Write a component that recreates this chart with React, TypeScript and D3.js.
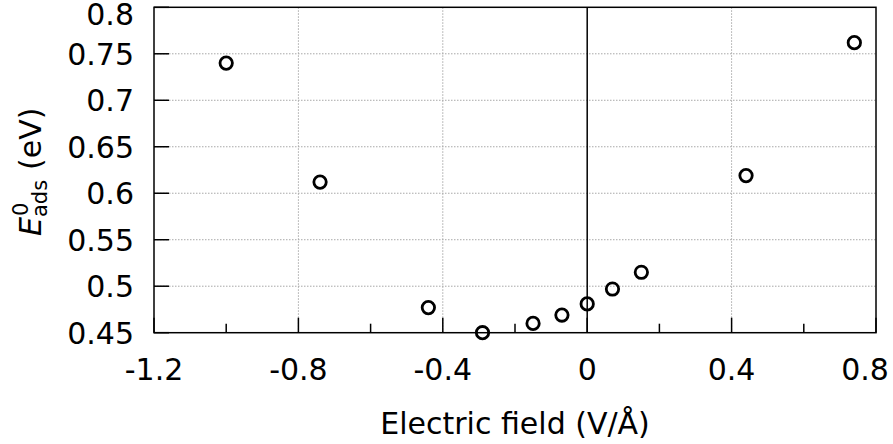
import React from "react";
import * as d3 from "d3";

const fieldValues = [-1.0, -0.74, -0.44, -0.29, -0.15, -0.07, 0.0, 0.07, 0.15, 0.44, 0.74];
const energyValues = [0.74, 0.612, 0.477, 0.45, 0.46, 0.469, 0.481, 0.497, 0.515, 0.619, 0.762];
const xMajorTicks = [-1.2, -0.8, -0.4, 0, 0.4, 0.8];
const xMinorTicks = [-1.0, -0.6, -0.2, 0.2, 0.6];
const yTicks = [0.45, 0.5, 0.55, 0.6, 0.65, 0.7, 0.75, 0.8];
const xTickLabels = ["-1.2", "-0.8", "-0.4", "0", "0.4", "0.8"];
const yTickLabels = ["0.45", "0.5", "0.55", "0.6", "0.65", "0.7", "0.75", "0.8"];

const W = 893, H = 444;
const L = 154, R = 876, T = 7.3, B = 332.7;
const FONT = "DejaVu Sans, sans-serif";

export default function App() {
  const x = d3.scaleLinear().domain([-1.2, 0.8]).range([L, R]);
  const y = d3.scaleLinear().domain([0.45, 0.8]).range([B, T]);
  const fs = 30;
  return (
    <svg width={W} height={H} style={{ position: "absolute", left: 0, top: 0, background: "#fff" }} fontFamily={FONT}>
      <rect x={0} y={0} width={W} height={H} fill="#fff" />
      {/* grid */}
      {yTicks.slice(1, -1).map((v) => (
        <line key={"gy" + v} x1={L} x2={R} y1={y(v)} y2={y(v)} stroke="#a8a8a8" strokeWidth={1} strokeDasharray="1.5,1.5" />
      ))}
      {xMajorTicks.slice(1, -1).filter((v) => v !== 0).map((v) => (
        <line key={"gx" + v} x1={x(v)} x2={x(v)} y1={T} y2={B} stroke="#a8a8a8" strokeWidth={1} strokeDasharray="1.5,1.5" />
      ))}
      {/* zero line */}
      <line x1={x(0)} x2={x(0)} y1={T} y2={B} stroke="#000" strokeWidth={1.5} />
      {/* ticks */}
      {xMajorTicks.map((v) => (
        <line key={"tx" + v} x1={x(v)} x2={x(v)} y1={B} y2={B - 15} stroke="#000" strokeWidth={1.5} />
      ))}
      {xMinorTicks.map((v) => (
        <line key={"mx" + v} x1={x(v)} x2={x(v)} y1={B} y2={B - 9} stroke="#000" strokeWidth={1.5} />
      ))}
      {yTicks.map((v) => (
        <line key={"ty" + v} x1={L} x2={L + 15} y1={y(v)} y2={y(v)} stroke="#000" strokeWidth={1.5} />
      ))}
      {/* border */}
      <rect x={L} y={T} width={R - L} height={B - T} fill="none" stroke="#000" strokeWidth={1.5} />
      {/* tick labels */}
      {xMajorTicks.map((v, i) => (
        <text key={"lx" + v} x={Math.min(x(v), W - 28)} y={380} textAnchor="middle" fontSize={fs} fill="#000">{xTickLabels[i]}</text>
      ))}
      {yTicks.map((v, i) => (
        <text key={"ly" + v} x={134} y={Math.max(y(v), 13.7)} dy="0.36em" textAnchor="end" fontSize={fs} fill="#000">{yTickLabels[i]}</text>
      ))}
      {/* points */}
      {fieldValues.map((fv, i) => (
        <circle key={"p" + i} cx={x(fv)} cy={y(energyValues[i])} r={6.2} fill="none" stroke="#000" strokeWidth={2.8} />
      ))}
      {/* axis titles */}
      <text x={(L + R) / 2} y={434} textAnchor="middle" fontSize={fs} fill="#000">Electric field (V/Å)</text>
      <text transform="translate(41,236) rotate(-90)" fontSize={fs} fill="#000">
        <tspan fontStyle="italic">E</tspan>
        <tspan fontSize={21} dy={6}>ads</tspan>
        <tspan fontSize={21} dx={-36} dy={-19}>0</tspan>
        <tspan dx={23} dy={13}> (eV)</tspan>
      </text>
    </svg>
  );
}
